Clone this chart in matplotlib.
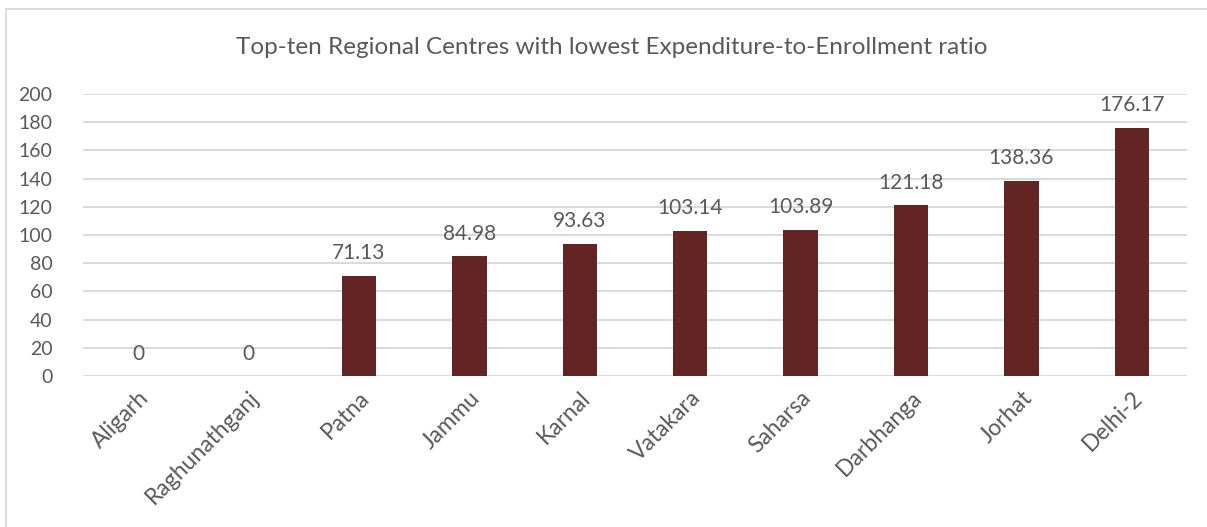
import matplotlib.pyplot as plt
from matplotlib.patches import Rectangle

plt.rcParams['font.family'] = ['Lato', 'DejaVu Sans']

# Regional centres and their expenditure-to-enrollment ratio
centres = ['Aligarh', 'Raghunathganj', 'Patna', 'Jammu', 'Karnal',
           'Vatakara', 'Saharsa', 'Darbhanga', 'Jorhat', 'Delhi-2']
ratios = [0, 0, 71.13, 84.98, 93.63, 103.14, 103.89, 121.18, 138.36, 176.17]
yticks = list(range(0, 201, 20))

text_col = '#595959'
bar_col = '#632523'
grid_col = '#d9d9d9'

fig = plt.figure(figsize=(12.07, 5.27), dpi=100)
fig.patch.set_facecolor('white')

# chart frame
W, H = 1207, 527
fig.patches.append(Rectangle((6 / W, -0.1), 1.2, (H - 9) / H + 0.1,
                             transform=fig.transFigure, fill=False,
                             edgecolor='#d9d9d9', linewidth=1.3))

ax = fig.add_axes([83 / W, 151 / H, 1104 / W, 282 / H])
x = range(len(centres))
bars = ax.bar(x, ratios, width=0.31, color=bar_col, zorder=3)

ax.set_xlim(-0.5, len(centres) - 0.5)
ax.set_ylim(0, 200)
ax.set_yticks(yticks)
ax.grid(axis='y', color=grid_col, linewidth=1.4, zorder=0)
for s in ax.spines.values():
    s.set_visible(False)

ax.tick_params(axis='y', length=0, pad=22, labelsize=14, labelcolor=text_col)
ax.tick_params(axis='x', length=0, pad=8, labelsize=16.5, labelcolor=text_col)
ax.set_xticks(list(x))
ax.set_xticklabels(centres, rotation=45, ha='right', va='top',
                   rotation_mode='anchor')

for xi, v in zip(x, ratios):
    ax.annotate(f'{v:g}' if v == 0 else f'{v:.2f}', (xi, v),
                xytext=(0, 9), textcoords='offset points',
                ha='center', va='bottom', fontsize=15, color=text_col)

fig.text(612 / W, 1 - 47 / H,
         'Top-ten Regional Centres with lowest Expenditure-to-Enrollment ratio',
         ha='center', va='center', fontsize=17.5, color=text_col)

fig.savefig('out.png', dpi=100)
